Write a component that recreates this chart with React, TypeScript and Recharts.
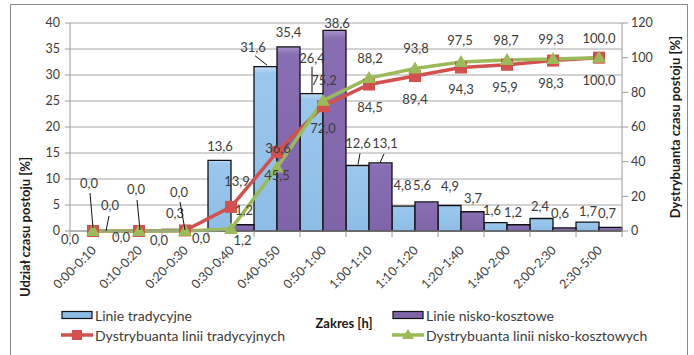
import {
  Bar,
  CartesianGrid,
  ComposedChart,
  LabelList,
  Legend,
  Line,
  XAxis,
  YAxis,
} from 'recharts';

// Time ranges of a stop [h]
const ranges = [
  '0:00-0:10', '0:10-0:20', '0:20-0:30', '0:30-0:40', '0:40-0:50', '0:50-1:00',
  '1:00-1:10', '1:10-1:20', '1:20-1:40', '1:40-2:00', '2:00-2:30', '2:30-5:00',
];

// Share of stop time per range [%]
const traditionalShare = [0.0, 0.0, 0.3, 13.6, 31.6, 26.4, 12.6, 4.8, 4.9, 1.6, 2.4, 1.7];
const lowCostShare = [0.0, 0.0, 0.0, 1.2, 35.4, 38.6, 13.1, 5.6, 3.7, 1.2, 0.6, 0.7];

// Cumulative distribution [%]
const traditionalCdf = [0.0, 0.0, 0.3, 13.9, 45.5, 72.0, 84.5, 89.4, 94.3, 95.9, 98.3, 100.0];
const lowCostCdf = [0.0, 0.0, 0.0, 1.2, 36.6, 75.2, 88.2, 93.8, 97.5, 98.7, 99.3, 100.0];

const shareTicks = [0, 5, 10, 15, 20, 25, 30, 35, 40];
const cdfTicks = [0, 20, 40, 60, 80, 100, 120];

const data = ranges.map((range, i) => ({
  range,
  trad: traditionalShare[i],
  low: lowCostShare[i],
  tradCdf: traditionalCdf[i],
  lowCdf: lowCostCdf[i],
}));

const FONT = 'Lato, "Open Sans", sans-serif';
const TEXT = '#3c3c3c';
const BLUE = '#8dbde7';
const PURPLE = '#8064aa';
const RED = '#d2504d';
const GREEN = '#9bbb59';

// label placement: [dx, dy, leader x1, y1, x2, y2], relative to the point
// at the category centre and the value's height
type Place = number[] | null;

const tradBarPlaces: Place[] = [
  [-4, -48, -3, -38, 0, -3],
  [-3, -42, -2, -31, 1, -1],
  [-10, -16],
  [-11, -14],
  [-24, -20, -22, -11, -10, -1.5],
  [-11, -36, -11, -27, -11, -1],
  [-11, -22.5, -9, -12, -11, -1],
  [-12.5, -21],
  [-11, -20],
  [-15, -13],
  [-13, -13],
  [-11, -11],
];

const lowBarPlaces: Place[] = [
  [28, 6],
  [20, 9],
  [16, 7],
  [11.5, 15],
  [11.5, -15],
  [14, -7],
  [16, -20, 15, -9, 11, 0],
  [7, -17],
  [12, -14],
  [6, -13],
  [7, -15],
  [8, -14],
];

const tradCdfPlaces: Place[] = [
  [-23, 8],
  null,
  null,
  [6, -26],
  [0, 23],
  [0, 22],
  [1, 22],
  [0, 23],
  [0, 21],
  [-2, 22],
  [-2, 22],
  [0, 22],
];

const lowCdfPlaces: Place[] = [
  [17, -26, 16, -15, 13, 0],
  null,
  [-6, -39, -5, -29, 0, -1],
  [13, -19],
  [1, -20],
  [1, -21],
  [1, -20],
  [1, -20],
  [-1, -22],
  [-1, -20],
  [-2, -20],
  [0, -20],
];

const fmt = (v: number) => v.toFixed(1).replace('.', ',');

function placedLabel(places: Place[]) {
  return (props: any) => {
    const place = places[props.index];
    if (!place) return null;
    const vb = props.viewBox ?? props;
    const ax = (vb.x ?? props.x ?? 0) + (vb.width ?? 0) / 2;
    const ay = vb.y ?? props.y ?? 0;
    const [dx, dy, x1, y1, x2, y2] = place;
    return (
      <g>
        {x1 !== undefined && (
          <line x1={ax + x1} y1={ay + y1} x2={ax + x2} y2={ay + y2} stroke="#111" strokeWidth={1} />
        )}
        <text
          x={ax + dx}
          y={ay + dy}
          textAnchor="middle"
          dominantBaseline="central"
          fontSize={13}
          fontFamily={FONT}
          fill={TEXT}
        >
          {fmt(Number(props.value))}
        </text>
      </g>
    );
  };
}

function RangeTick(props: any) {
  const { x, y, payload, index } = props;
  const half = payload?.offset ?? 23;
  const tx = x + 4;
  const ty = y + 20;
  return (
    <g>
      {index === 0 && <line x1={x - half} y1={y} x2={x - half} y2={y + 6} stroke="#9a9a9a" />}
      <line x1={x + half} y1={y} x2={x + half} y2={y + 6} stroke="#9a9a9a" />
      <text
        x={tx}
        y={ty}
        textAnchor="end"
        transform={`rotate(-45 ${tx} ${ty})`}
        fontSize={12.5}
        fontFamily={FONT}
        fill={TEXT}
      >
        {payload.value}
      </text>
    </g>
  );
}

function SquareDot(props: any) {
  const { cx, cy } = props;
  return <rect x={cx - 6} y={cy - 6} width={12} height={12} fill={RED} />;
}

function TriangleDot(props: any) {
  const { cx, cy } = props;
  return <polygon points={`${cx},${cy - 7} ${cx + 7},${cy + 5} ${cx - 7},${cy + 5}`} fill={GREEN} />;
}

const legendItems = [
  { name: 'Linie tradycyjne', kind: 'box', color: BLUE, left: 61, top: 10 },
  { name: 'Linie nisko-kosztowe', kind: 'box', color: PURPLE, left: 392, top: 10 },
  { name: 'Dystrybuanta linii tradycyjnych', kind: 'square', color: RED, left: 61, top: 30 },
  { name: 'Dystrybuanta linii nisko-kosztowych', kind: 'triangle', color: GREEN, left: 392, top: 30 },
];

function LegendContent() {
  return (
    <div style={{ position: 'relative', width: 694, height: 40, fontFamily: FONT, fontSize: 14, color: TEXT }}>
      {legendItems.map((item) => (
        <div
          key={item.name}
          style={{ position: 'absolute', left: item.left, top: item.top - 9, height: 18, display: 'flex', alignItems: 'center' }}
        >
          <svg width={32} height={18} style={{ marginRight: 2 }}>
            {item.kind === 'box' && (
              <rect x={1} y={5.5} width={30} height={7} fill={item.color} stroke="#111" strokeWidth={1.2} />
            )}
            {item.kind !== 'box' && <line x1={0} y1={9} x2={32} y2={9} stroke={item.color} strokeWidth={3.5} />}
            {item.kind === 'square' && <rect x={11} y={4} width={10} height={10} fill={item.color} />}
            {item.kind === 'triangle' && <polygon points="16,3 22,13 10,13" fill={item.color} />}
          </svg>
          <span style={{ whiteSpace: 'nowrap' }}>{item.name}</span>
        </div>
      ))}
    </div>
  );
}

const titleStyle = { fontSize: 13, fontFamily: FONT, fontWeight: 700, fill: '#1a1a1a' };

export default function App() {
  return (
    <div style={{ position: 'absolute', left: 0, top: 0, width: 694, height: 355, background: '#fff', overflow: 'hidden' }}>
      <div
        style={{
          position: 'absolute',
          left: 10,
          top: 4,
          width: 676,
          height: 370,
          border: '1.5px solid #8a8a8a',
        }}
      />
      <ComposedChart
        width={694}
        height={355}
        data={data}
        margin={{ top: 23, right: 22, bottom: 64, left: 40 }}
        barCategoryGap={0}
        barGap={0}
        style={{ position: 'absolute', left: 0, top: 0 }}
      >
        <CartesianGrid horizontal vertical={false} stroke="#a6a6a6" yAxisId="share" />
        <XAxis
          dataKey="range"
          interval={0}
          height={60}
          tickSize={0}
          tickMargin={0}
          tickLine={false}
          axisLine={{ stroke: '#9a9a9a' }}
          tick={<RangeTick />}
          label={() => (
            <text x={344} y={323} textAnchor="middle" dominantBaseline="central" {...titleStyle}>
              Zakres [h]
            </text>
          )}
        />
        <YAxis
          yAxisId="share"
          domain={[0, 40]}
          ticks={shareTicks}
          width={30}
          tickSize={5}
          tickMargin={5}
          axisLine={{ stroke: '#9a9a9a' }}
          tickLine={{ stroke: '#9a9a9a' }}
          tick={{ fill: TEXT, fontSize: 12.5, fontFamily: FONT }}
          label={() => (
            <text
              x={25}
              y={227}
              textAnchor="middle"
              dominantBaseline="central"
              transform="rotate(-90 25 227)"
              {...titleStyle}
            >
              Udział czasu postoju [%]
            </text>
          )}
        />
        <YAxis
          yAxisId="cdf"
          orientation="right"
          domain={[0, 120]}
          ticks={cdfTicks}
          width={50}
          tickSize={6}
          tickMargin={3}
          axisLine={{ stroke: '#9a9a9a' }}
          tickLine={{ stroke: '#9a9a9a' }}
          tick={{ fill: TEXT, fontSize: 12.5, fontFamily: FONT }}
          label={() => (
            <text
              x={675}
              y={127}
              textAnchor="middle"
              dominantBaseline="central"
              transform="rotate(-90 675 127)"
              {...titleStyle}
            >
              Dystrybuanta czasu postoju [%]
            </text>
          )}
        />
        <defs>
          <linearGradient id="blueFill" x1="0" y1="0" x2="0" y2="1">
            <stop offset="0%" stopColor="#c4def5" />
            <stop offset="4%" stopColor="#9ac7ee" />
            <stop offset="100%" stopColor={BLUE} />
          </linearGradient>
          <linearGradient id="purpleFill" x1="0" y1="0" x2="0" y2="1">
            <stop offset="0%" stopColor="#a693cc" />
            <stop offset="4%" stopColor="#8a6eb4" />
            <stop offset="100%" stopColor={PURPLE} />
          </linearGradient>
        </defs>
        <Legend
          layout="horizontal"
          verticalAlign="middle"
          align="center"
          content={<LegendContent />}
          wrapperStyle={{ left: 0, top: 305, width: 694, height: 40 }}
        />
        <Bar
          yAxisId="share"
          dataKey="trad"
          name="Linie tradycyjne"
          fill="url(#blueFill)"
          stroke="#111"
          strokeWidth={1.3}
          isAnimationActive={false}
        />
        <Bar
          yAxisId="share"
          dataKey="low"
          name="Linie nisko-kosztowe"
          fill="url(#purpleFill)"
          stroke="#111"
          strokeWidth={1.3}
          isAnimationActive={false}
        />
        {/* value labels of the bars, anchored at each category's point */}
        <Line
          yAxisId="share"
          dataKey="trad"
          stroke="none"
          dot={false}
          activeDot={false}
          legendType="none"
          isAnimationActive={false}
        >
          <LabelList dataKey="trad" content={placedLabel(tradBarPlaces)} />
        </Line>
        <Line
          yAxisId="share"
          dataKey="low"
          stroke="none"
          dot={false}
          activeDot={false}
          legendType="none"
          isAnimationActive={false}
        >
          <LabelList dataKey="low" content={placedLabel(lowBarPlaces)} />
        </Line>
        <Line
          yAxisId="cdf"
          dataKey="tradCdf"
          name="Dystrybuanta linii tradycyjnych"
          stroke={RED}
          strokeWidth={3.5}
          dot={<SquareDot />}
          activeDot={false}
          isAnimationActive={false}
        >
          <LabelList dataKey="tradCdf" content={placedLabel(tradCdfPlaces)} />
        </Line>
        <Line
          yAxisId="cdf"
          dataKey="lowCdf"
          name="Dystrybuanta linii nisko-kosztowych"
          stroke={GREEN}
          strokeWidth={3.5}
          dot={<TriangleDot />}
          activeDot={false}
          isAnimationActive={false}
        >
          <LabelList dataKey="lowCdf" content={placedLabel(lowCdfPlaces)} />
        </Line>
      </ComposedChart>
    </div>
  );
}
